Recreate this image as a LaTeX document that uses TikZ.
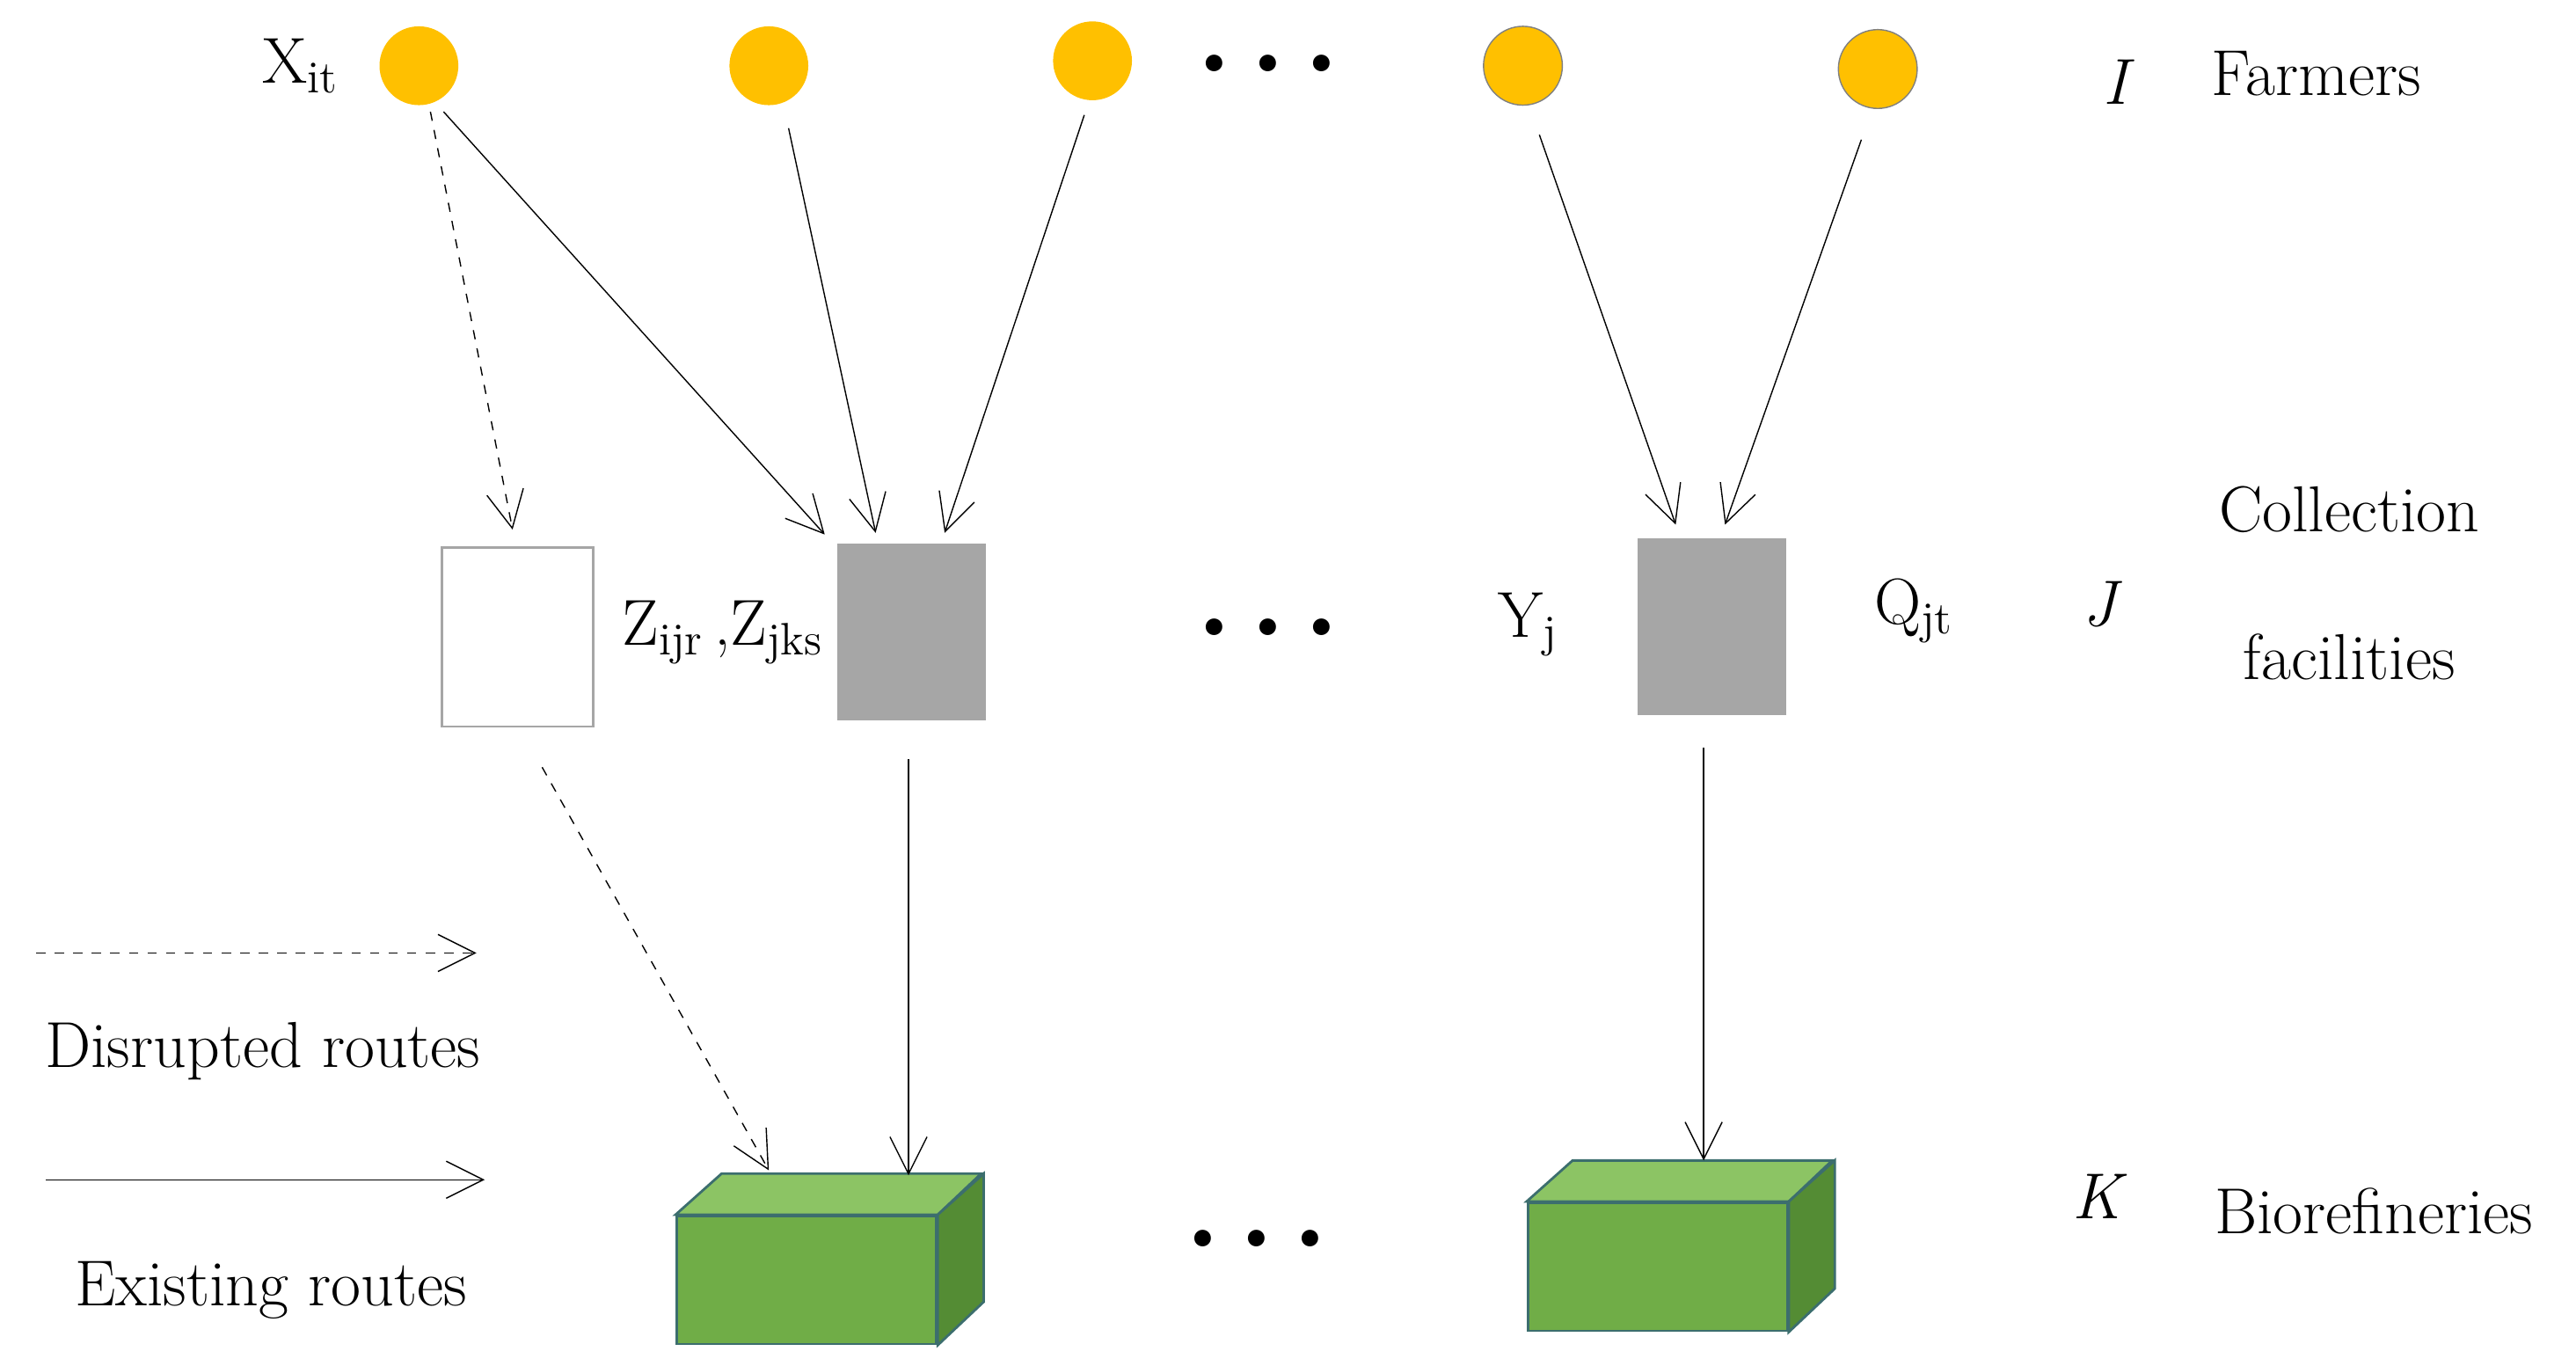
\documentclass[tikz,border=0pt]{standalone}
\usepackage{tikz}
\usetikzlibrary{positioning,shapes.geometric,arrows.meta,calc}
\definecolor{farm}{RGB}{255,192,0}
\definecolor{cylg}{RGB}{166,166,166}
\definecolor{boxg}{RGB}{112,173,71}
\definecolor{boxl}{RGB}{140,196,100}
\definecolor{boxd}{RGB}{84,140,52}
\definecolor{boxe}{RGB}{60,110,110}
\tikzset{%
  farmer/.style = {circle, fill=farm, minimum width=25.5pt, minimum height=23.4pt, inner sep=0pt}, % Farmer
  cyl/.style    = {cylinder, shape border rotate=90, aspect=0.3, minimum width=49pt, minimum height=58pt, inner sep=0pt},
  front/.style  = {draw=boxe, thick, fill=boxg, minimum width=84pt, minimum height=41.4pt, inner sep=0pt},
  lbl/.style    = {font=\fontsize{21}{25}\selectfont},
  dots/.style   = {font=\fontsize{24}{24}\selectfont},
  route/.style  = {-{Straight Barb[length=12pt,width=12pt]}, thin}
}
\begin{document}
\begin{tikzpicture}[x=0.01868cm, y=-0.01868cm]
	\useasboundingbox (0,0) rectangle (1568,831);

	\node at (255,40) [farmer] (f1) {};
	\node at (468,40) [farmer] (f2) {};
	\node at (665,37) [farmer] (f3) {};
	\node at (927,40) [farmer, draw=gray] (f4) {};
	\node at (1143,42) [farmer, draw=gray] (f5) {};

	\node at (183,40) [lbl] (xit) {X\textsubscript{it}};
	\node at (772,42) [dots] (d1) {\textbullet\textbullet\textbullet};
	\node at (1290,50) [lbl] (lI) {\textit{I}};
	\node at (1410,45) [lbl] (lfarm) {Farmers};

	\node at (315,388) [cyl, draw=gray!70, thick, fill=white] (c1) {};
	\node at (555,385) [cyl, draw=white, thick, cylinder uses custom fill, cylinder body fill=cylg, cylinder end fill=gray!45] (c2) {};
	\node at (1042,382) [cyl, draw=white, thick, cylinder uses custom fill, cylinder body fill=cylg, cylinder end fill=gray!45] (c3) {};

	\node at (440,385) [lbl] (zl) {Z\textsubscript{ijr}\,,Z\textsubscript{jks}};
	\node at (772,385) [dots] (d2) {\textbullet\textbullet\textbullet};
	\node at (930,380) [lbl] (yl) {Y\textsubscript{j}};
	\node at (1165,372) [lbl] (ql) {Q\textsubscript{jt}};
	\node at (1280,368) [lbl] (lJ) {\textit{J}};
	\node at (1430,310) [lbl] (lcol) {Collection};
	\node at (1430,400) [lbl] (lfac) {facilities};

	% boxes
	\node at (491,779) [front] (b1) {};
	\node at (1009,771) [front] (b2) {};
	\foreach \b in {b1,b2}{%
		\draw[boxe, thick, fill=boxl] (\b.north west) -- ++(28,-25) -- ++(158,0) -- (\b.north east) -- cycle;
		\draw[boxe, thick, fill=boxd] (\b.north east) -- ++(28,-25) -- ++(0,78) -- (\b.south east) -- cycle;
	}
	\node at (765,757) [dots] (d3) {\textbullet\textbullet\textbullet};
	\node at (1278,728) [lbl] (lK) {\textit{K}};
	\node at (1445,737) [lbl] (lbio) {Biorefineries};

	% legend
	\coordinate (ld1) at (22,580);
	\coordinate (ld2) at (290,580);
	\coordinate (le1) at (28,718);
	\coordinate (le2) at (295,718);
	\node at (160,640) [lbl] (ldis) {Disrupted routes};
	\node at (165,785) [lbl] (lexi) {Existing routes};
	\draw[route, dashed] (ld1) -- (ld2);
	\draw[route] (le1) -- (le2);

	% routes
	\draw[route] ($(f1)+(15,28)$) -- ($(c2.north)+(-53,-4)$);
	\draw[route, dashed] ($(f1)+(7,28)$) -- ($(c1.north)+(-3,-10)$);
	\draw[route] ($(f2)+(12,38)$) -- ($(c2.north)+(-22,-5)$);
	\draw[route] ($(f3)+(-5,33)$) -- ($(c2.north)+(20,-5)$);
	\draw[route] ($(f4)+(10,42)$) -- ($(c3.north)+(-22,-7)$);
	\draw[route] ($(f5)+(-10,43)$) -- ($(c3.north)+(8,-7)$);
	\draw[route, dashed] ($(c1.south)+(15,24)$) -- ($(b1.north)+(-23,-27)$);
	\draw[route] ($(c2.south)+(-2,22)$) -- ($(b1.north)+(62,-24)$);
	\draw[route] ($(c3.south)+(-5,18)$) -- ($(b2.north)+(28,-25)$);
\end{tikzpicture}
\end{document}
